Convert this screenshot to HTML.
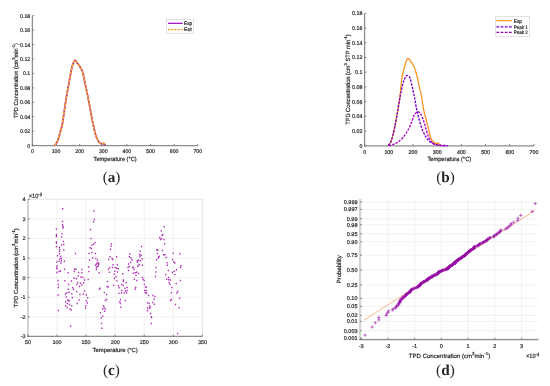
<!DOCTYPE html>
<html><head><meta charset="utf-8"><title>TPD figure</title>
<style>html,body{margin:0;padding:0;background:#fff;}svg{display:block;filter:blur(0.25px);} text{text-rendering:geometricPrecision;} .ax text{stroke:#262626;stroke-width:0.2px;}</style></head>
<body><svg width="550" height="386" viewBox="0 0 550 386" font-family="'Liberation Sans', Arial, Helvetica, sans-serif" fill="#262626">
<rect width="550" height="386" fill="#fff"/>
<g class="ax"><line x1="32.40" y1="15.70" x2="32.40" y2="146.20" stroke="#8e8e8e" stroke-width="1.3" />
<line x1="31.80" y1="145.60" x2="197.81" y2="145.60" stroke="#8e8e8e" stroke-width="1.3" />
<line x1="32.40" y1="145.60" x2="34.20" y2="145.60" stroke="#6a6a6a" stroke-width="0.8" />
<text transform="translate(30.20,147.55) scale(0.9615,1)" font-size="5.41" text-anchor="end" >0</text>
<line x1="32.40" y1="131.17" x2="34.20" y2="131.17" stroke="#6a6a6a" stroke-width="0.8" />
<text transform="translate(30.20,133.11) scale(0.9615,1)" font-size="5.41" text-anchor="end" >0.02</text>
<line x1="32.40" y1="116.73" x2="34.20" y2="116.73" stroke="#6a6a6a" stroke-width="0.8" />
<text transform="translate(30.20,118.68) scale(0.9615,1)" font-size="5.41" text-anchor="end" >0.04</text>
<line x1="32.40" y1="102.30" x2="34.20" y2="102.30" stroke="#6a6a6a" stroke-width="0.8" />
<text transform="translate(30.20,104.25) scale(0.9615,1)" font-size="5.41" text-anchor="end" >0.06</text>
<line x1="32.40" y1="87.87" x2="34.20" y2="87.87" stroke="#6a6a6a" stroke-width="0.8" />
<text transform="translate(30.20,89.81) scale(0.9615,1)" font-size="5.41" text-anchor="end" >0.08</text>
<line x1="32.40" y1="73.43" x2="34.20" y2="73.43" stroke="#6a6a6a" stroke-width="0.8" />
<text transform="translate(30.20,75.38) scale(0.9615,1)" font-size="5.41" text-anchor="end" >0.1</text>
<line x1="32.40" y1="59.00" x2="34.20" y2="59.00" stroke="#6a6a6a" stroke-width="0.8" />
<text transform="translate(30.20,60.95) scale(0.9615,1)" font-size="5.41" text-anchor="end" >0.12</text>
<line x1="32.40" y1="44.57" x2="34.20" y2="44.57" stroke="#6a6a6a" stroke-width="0.8" />
<text transform="translate(30.20,46.51) scale(0.9615,1)" font-size="5.41" text-anchor="end" >0.14</text>
<line x1="32.40" y1="30.13" x2="34.20" y2="30.13" stroke="#6a6a6a" stroke-width="0.8" />
<text transform="translate(30.20,32.08) scale(0.9615,1)" font-size="5.41" text-anchor="end" >0.16</text>
<line x1="32.40" y1="15.70" x2="34.20" y2="15.70" stroke="#6a6a6a" stroke-width="0.8" />
<text transform="translate(30.20,17.65) scale(0.9615,1)" font-size="5.41" text-anchor="end" >0.18</text>
<line x1="32.40" y1="145.60" x2="32.40" y2="143.80" stroke="#6a6a6a" stroke-width="0.8" />
<text transform="translate(32.40,153.40) scale(0.9615,1)" font-size="5.41" text-anchor="middle" >0</text>
<line x1="56.03" y1="145.60" x2="56.03" y2="143.80" stroke="#6a6a6a" stroke-width="0.8" />
<text transform="translate(56.03,153.40) scale(0.9615,1)" font-size="5.41" text-anchor="middle" >100</text>
<line x1="79.66" y1="145.60" x2="79.66" y2="143.80" stroke="#6a6a6a" stroke-width="0.8" />
<text transform="translate(79.66,153.40) scale(0.9615,1)" font-size="5.41" text-anchor="middle" >200</text>
<line x1="103.29" y1="145.60" x2="103.29" y2="143.80" stroke="#6a6a6a" stroke-width="0.8" />
<text transform="translate(103.29,153.40) scale(0.9615,1)" font-size="5.41" text-anchor="middle" >300</text>
<line x1="126.92" y1="145.60" x2="126.92" y2="143.80" stroke="#6a6a6a" stroke-width="0.8" />
<text transform="translate(126.92,153.40) scale(0.9615,1)" font-size="5.41" text-anchor="middle" >400</text>
<line x1="150.55" y1="145.60" x2="150.55" y2="143.80" stroke="#6a6a6a" stroke-width="0.8" />
<text transform="translate(150.55,153.40) scale(0.9615,1)" font-size="5.41" text-anchor="middle" >500</text>
<line x1="174.18" y1="145.60" x2="174.18" y2="143.80" stroke="#6a6a6a" stroke-width="0.8" />
<text transform="translate(174.18,153.40) scale(0.9615,1)" font-size="5.41" text-anchor="middle" >600</text>
<line x1="197.81" y1="145.60" x2="197.81" y2="143.80" stroke="#6a6a6a" stroke-width="0.8" />
<text transform="translate(197.81,153.40) scale(0.9615,1)" font-size="5.41" text-anchor="middle" >700</text>
<text transform="translate(115.11,160.80) scale(0.9434,1)" font-size="5.94" text-anchor="middle" >Temperature (°C)</text>
<text transform="translate(17.60,80.65) rotate(-90) scale(0.9434,1)" font-size="5.94" text-anchor="middle" >TPD Concentration (cm<tspan font-size="4.27" dy="-2.85">3</tspan><tspan dy="2.85">min</tspan><tspan font-size="4.27" dy="-2.85">-1</tspan><tspan dy="2.85">)</tspan></text>
<line x1="364.60" y1="13.30" x2="364.60" y2="146.40" stroke="#8e8e8e" stroke-width="1.3" />
<line x1="364.00" y1="145.80" x2="534.00" y2="145.80" stroke="#8e8e8e" stroke-width="1.3" />
<line x1="364.60" y1="145.80" x2="366.40" y2="145.80" stroke="#6a6a6a" stroke-width="0.8" />
<text transform="translate(362.40,147.78) scale(0.9615,1)" font-size="5.51" text-anchor="end" >0</text>
<line x1="364.60" y1="131.08" x2="366.40" y2="131.08" stroke="#6a6a6a" stroke-width="0.8" />
<text transform="translate(362.40,133.06) scale(0.9615,1)" font-size="5.51" text-anchor="end" >0.02</text>
<line x1="364.60" y1="116.36" x2="366.40" y2="116.36" stroke="#6a6a6a" stroke-width="0.8" />
<text transform="translate(362.40,118.34) scale(0.9615,1)" font-size="5.51" text-anchor="end" >0.04</text>
<line x1="364.60" y1="101.63" x2="366.40" y2="101.63" stroke="#6a6a6a" stroke-width="0.8" />
<text transform="translate(362.40,103.62) scale(0.9615,1)" font-size="5.51" text-anchor="end" >0.06</text>
<line x1="364.60" y1="86.91" x2="366.40" y2="86.91" stroke="#6a6a6a" stroke-width="0.8" />
<text transform="translate(362.40,88.90) scale(0.9615,1)" font-size="5.51" text-anchor="end" >0.08</text>
<line x1="364.60" y1="72.19" x2="366.40" y2="72.19" stroke="#6a6a6a" stroke-width="0.8" />
<text transform="translate(362.40,74.17) scale(0.9615,1)" font-size="5.51" text-anchor="end" >0.1</text>
<line x1="364.60" y1="57.47" x2="366.40" y2="57.47" stroke="#6a6a6a" stroke-width="0.8" />
<text transform="translate(362.40,59.45) scale(0.9615,1)" font-size="5.51" text-anchor="end" >0.12</text>
<line x1="364.60" y1="42.74" x2="366.40" y2="42.74" stroke="#6a6a6a" stroke-width="0.8" />
<text transform="translate(362.40,44.73) scale(0.9615,1)" font-size="5.51" text-anchor="end" >0.14</text>
<line x1="364.60" y1="28.02" x2="366.40" y2="28.02" stroke="#6a6a6a" stroke-width="0.8" />
<text transform="translate(362.40,30.01) scale(0.9615,1)" font-size="5.51" text-anchor="end" >0.16</text>
<line x1="364.60" y1="13.30" x2="366.40" y2="13.30" stroke="#6a6a6a" stroke-width="0.8" />
<text transform="translate(362.40,15.28) scale(0.9615,1)" font-size="5.51" text-anchor="end" >0.18</text>
<line x1="364.60" y1="145.80" x2="364.60" y2="144.00" stroke="#6a6a6a" stroke-width="0.8" />
<text transform="translate(364.60,153.60) scale(0.9615,1)" font-size="5.51" text-anchor="middle" >0</text>
<line x1="388.80" y1="145.80" x2="388.80" y2="144.00" stroke="#6a6a6a" stroke-width="0.8" />
<text transform="translate(388.80,153.60) scale(0.9615,1)" font-size="5.51" text-anchor="middle" >100</text>
<line x1="413.00" y1="145.80" x2="413.00" y2="144.00" stroke="#6a6a6a" stroke-width="0.8" />
<text transform="translate(413.00,153.60) scale(0.9615,1)" font-size="5.51" text-anchor="middle" >200</text>
<line x1="437.20" y1="145.80" x2="437.20" y2="144.00" stroke="#6a6a6a" stroke-width="0.8" />
<text transform="translate(437.20,153.60) scale(0.9615,1)" font-size="5.51" text-anchor="middle" >300</text>
<line x1="461.40" y1="145.80" x2="461.40" y2="144.00" stroke="#6a6a6a" stroke-width="0.8" />
<text transform="translate(461.40,153.60) scale(0.9615,1)" font-size="5.51" text-anchor="middle" >400</text>
<line x1="485.60" y1="145.80" x2="485.60" y2="144.00" stroke="#6a6a6a" stroke-width="0.8" />
<text transform="translate(485.60,153.60) scale(0.9615,1)" font-size="5.51" text-anchor="middle" >500</text>
<line x1="509.80" y1="145.80" x2="509.80" y2="144.00" stroke="#6a6a6a" stroke-width="0.8" />
<text transform="translate(509.80,153.60) scale(0.9615,1)" font-size="5.51" text-anchor="middle" >600</text>
<line x1="534.00" y1="145.80" x2="534.00" y2="144.00" stroke="#6a6a6a" stroke-width="0.8" />
<text transform="translate(534.00,153.60) scale(0.9615,1)" font-size="5.51" text-anchor="middle" >700</text>
<text transform="translate(449.30,161.40) scale(0.9434,1)" font-size="6.04" text-anchor="middle" >Temperatura (°C)</text>
<text transform="translate(349.90,79.55) rotate(-90) scale(0.9434,1)" font-size="6.04" text-anchor="middle" >TPD Concentration (cm<tspan font-size="4.35" dy="-2.90">3</tspan><tspan dy="2.90"> STP min</tspan><tspan font-size="4.35" dy="-2.90">-1</tspan><tspan dy="2.90">)</tspan></text>
<path d="M54.60 145.60 C54.80 145.33 55.40 144.55 55.80 144.00 C56.20 143.45 56.50 143.42 57.00 142.30 C57.50 141.18 58.22 139.18 58.80 137.30 C59.38 135.42 59.93 133.07 60.50 131.00 C61.07 128.93 61.60 128.00 62.20 124.90 C62.80 121.80 63.48 116.55 64.10 112.40 C64.72 108.25 65.45 102.90 65.90 100.00 C66.35 97.10 66.40 97.25 66.80 95.00 C67.20 92.75 67.80 89.28 68.30 86.50 C68.80 83.72 69.35 80.72 69.80 78.30 C70.25 75.88 70.63 73.88 71.00 72.00 C71.37 70.12 71.67 68.33 72.00 67.00 C72.33 65.67 72.67 64.92 73.00 64.00 C73.33 63.08 73.70 62.12 74.00 61.50 C74.30 60.88 74.53 60.45 74.80 60.30 C75.07 60.15 75.32 60.35 75.60 60.60 C75.88 60.85 76.10 61.23 76.50 61.80 C76.90 62.37 77.48 63.25 78.00 64.00 C78.52 64.75 79.10 65.55 79.60 66.30 C80.10 67.05 80.58 67.77 81.00 68.50 C81.42 69.23 81.77 69.87 82.10 70.70 C82.43 71.53 82.68 72.27 83.00 73.50 C83.32 74.73 83.53 75.87 84.00 78.10 C84.47 80.33 85.18 83.98 85.80 86.90 C86.42 89.82 87.25 93.42 87.70 95.60 C88.15 97.78 88.05 97.60 88.50 100.00 C88.95 102.40 89.78 106.68 90.40 110.00 C91.02 113.32 91.58 116.80 92.20 119.90 C92.82 123.00 93.47 125.90 94.10 128.60 C94.73 131.30 95.48 134.37 96.00 136.10 C96.52 137.83 96.80 138.18 97.20 139.00 C97.60 139.82 98.00 140.42 98.40 141.00 C98.80 141.58 99.18 142.08 99.60 142.50 C100.02 142.92 100.42 143.25 100.90 143.50 C101.38 143.75 102.07 144.02 102.50 144.00 C102.93 143.98 103.13 143.37 103.50 143.40 C103.87 143.43 104.37 143.88 104.70 144.20 C105.03 144.52 105.37 145.12 105.50 145.30" fill="none" stroke="#8c00b4" stroke-width="1.6" stroke-linejoin="round" />
<path d="M54.60 145.60 C54.80 145.33 55.40 144.55 55.80 144.00 C56.20 143.45 56.50 143.42 57.00 142.30 C57.50 141.18 58.22 139.18 58.80 137.30 C59.38 135.42 59.93 133.07 60.50 131.00 C61.07 128.93 61.60 128.00 62.20 124.90 C62.80 121.80 63.48 116.55 64.10 112.40 C64.72 108.25 65.45 102.90 65.90 100.00 C66.35 97.10 66.40 97.25 66.80 95.00 C67.20 92.75 67.80 89.28 68.30 86.50 C68.80 83.72 69.35 80.72 69.80 78.30 C70.25 75.88 70.63 73.88 71.00 72.00 C71.37 70.12 71.67 68.33 72.00 67.00 C72.33 65.67 72.67 64.92 73.00 64.00 C73.33 63.08 73.70 62.12 74.00 61.50 C74.30 60.88 74.53 60.45 74.80 60.30 C75.07 60.15 75.32 60.35 75.60 60.60 C75.88 60.85 76.10 61.23 76.50 61.80 C76.90 62.37 77.48 63.25 78.00 64.00 C78.52 64.75 79.10 65.55 79.60 66.30 C80.10 67.05 80.58 67.77 81.00 68.50 C81.42 69.23 81.77 69.87 82.10 70.70 C82.43 71.53 82.68 72.27 83.00 73.50 C83.32 74.73 83.53 75.87 84.00 78.10 C84.47 80.33 85.18 83.98 85.80 86.90 C86.42 89.82 87.25 93.42 87.70 95.60 C88.15 97.78 88.05 97.60 88.50 100.00 C88.95 102.40 89.78 106.68 90.40 110.00 C91.02 113.32 91.58 116.80 92.20 119.90 C92.82 123.00 93.47 125.90 94.10 128.60 C94.73 131.30 95.48 134.37 96.00 136.10 C96.52 137.83 96.80 138.18 97.20 139.00 C97.60 139.82 98.00 140.42 98.40 141.00 C98.80 141.58 99.18 142.08 99.60 142.50 C100.02 142.92 100.42 143.25 100.90 143.50 C101.38 143.75 102.07 144.02 102.50 144.00 C102.93 143.98 103.13 143.37 103.50 143.40 C103.87 143.43 104.37 143.88 104.70 144.20 C105.03 144.52 105.37 145.12 105.50 145.30" fill="none" stroke="#f8a030" stroke-width="1.7" stroke-linejoin="round" stroke-dasharray="3.3 0.75"/>
<rect x="166.4" y="19.3" width="27.2" height="13.9" fill="#fff" stroke="#d0d0d0" stroke-width="0.6"/>
<line x1="168.00" y1="23.30" x2="182.70" y2="23.30" stroke="#9a00c8" stroke-width="1.2" />
<line x1="168.00" y1="29.60" x2="182.70" y2="29.60" stroke="#f79320" stroke-width="1.1" stroke-dasharray="2 1.3"/>
<text x="184.00" y="25.20" font-size="5.0" text-anchor="start" textLength="8.2" lengthAdjust="spacingAndGlyphs">Exp</text>
<text x="184.00" y="31.40" font-size="5.0" text-anchor="start" textLength="7.6" lengthAdjust="spacingAndGlyphs">Est</text>
<path d="M388.20 145.60 C388.63 145.00 390.03 143.67 390.80 142.00 C391.57 140.33 392.03 138.62 392.80 135.60 C393.57 132.58 394.58 128.00 395.40 123.90 C396.22 119.80 397.00 115.10 397.70 111.00 C398.40 106.90 399.18 102.13 399.60 99.30 C400.02 96.47 399.82 97.50 400.20 94.00 C400.58 90.50 401.32 82.27 401.90 78.30 C402.48 74.33 403.02 72.92 403.70 70.20 C404.38 67.48 405.42 63.83 406.00 62.00 C406.58 60.17 406.82 59.78 407.20 59.20 C407.58 58.62 407.92 58.48 408.30 58.50 C408.68 58.52 409.12 58.85 409.50 59.30 C409.88 59.75 409.93 60.12 410.60 61.20 C411.27 62.28 412.63 64.05 413.50 65.80 C414.37 67.55 415.12 69.55 415.80 71.70 C416.48 73.85 417.02 76.18 417.60 78.70 C418.18 81.22 418.62 83.70 419.30 86.80 C419.98 89.90 420.97 93.43 421.70 97.30 C422.43 101.17 422.95 106.23 423.70 110.00 C424.45 113.77 425.37 116.58 426.20 119.90 C427.03 123.22 427.98 127.00 428.70 129.90 C429.42 132.80 429.88 135.45 430.50 137.30 C431.12 139.15 431.67 140.07 432.40 141.00 C433.13 141.93 434.13 142.48 434.90 142.90 C435.67 143.32 436.43 143.50 437.00 143.50 C437.57 143.50 437.92 142.72 438.30 142.90 C438.68 143.08 438.85 144.18 439.30 144.60 C439.75 145.02 440.72 145.27 441.00 145.40" fill="none" stroke="#f79320" stroke-width="1.3" stroke-linejoin="round" />
<path d="M388.40 145.60 C388.80 145.00 390.07 143.67 390.80 142.00 C391.53 140.33 392.03 138.62 392.80 135.60 C393.57 132.58 394.58 128.00 395.40 123.90 C396.22 119.80 397.00 115.10 397.70 111.00 C398.40 106.90 399.08 102.22 399.60 99.30 C400.12 96.38 400.32 95.83 400.80 93.50 C401.28 91.17 401.92 87.63 402.50 85.30 C403.08 82.97 403.72 81.00 404.30 79.50 C404.88 78.00 405.52 76.98 406.00 76.30 C406.48 75.62 406.77 75.40 407.20 75.40 C407.63 75.40 408.12 75.82 408.60 76.30 C409.08 76.78 409.47 76.40 410.10 78.30 C410.73 80.20 411.72 84.78 412.40 87.70 C413.08 90.62 413.77 93.70 414.20 95.80 C414.63 97.90 414.57 97.93 415.00 100.30 C415.43 102.67 416.08 106.73 416.80 110.00 C417.52 113.27 418.37 116.58 419.30 119.90 C420.23 123.22 421.25 127.00 422.40 129.90 C423.55 132.80 424.95 135.33 426.20 137.30 C427.45 139.27 428.45 140.55 429.90 141.70 C431.35 142.85 432.83 143.58 434.90 144.20 C436.97 144.82 440.12 145.17 442.30 145.40 C444.48 145.63 447.05 145.57 448.00 145.60" fill="none" stroke="#7a00c8" stroke-width="1.4" stroke-linejoin="round" stroke-dasharray="2.4 1.2"/>
<path d="M388.80 145.60 C389.25 145.48 390.55 145.20 391.50 144.90 C392.45 144.60 393.42 144.28 394.50 143.80 C395.58 143.32 396.57 143.05 398.00 142.00 C399.43 140.95 401.60 139.22 403.10 137.50 C404.60 135.78 405.75 133.80 407.00 131.70 C408.25 129.60 409.48 127.48 410.60 124.90 C411.72 122.32 412.88 118.15 413.70 116.20 C414.52 114.25 414.77 113.93 415.50 113.20 C416.23 112.47 417.38 111.90 418.10 111.80 C418.82 111.70 419.28 112.08 419.80 112.60 C420.32 113.12 420.55 113.48 421.20 114.90 C421.85 116.32 422.87 118.60 423.70 121.10 C424.53 123.60 425.37 127.20 426.20 129.90 C427.03 132.60 427.77 135.23 428.70 137.30 C429.63 139.37 430.57 141.05 431.80 142.30 C433.03 143.55 434.13 144.25 436.10 144.80 C438.07 145.35 441.62 145.47 443.60 145.60 C445.58 145.73 447.27 145.60 448.00 145.60" fill="none" stroke="#a800c0" stroke-width="1.3" stroke-linejoin="round" stroke-dasharray="2.4 1.2"/>
<rect x="495.3" y="16.4" width="34.4" height="20" fill="#fff" stroke="#d0d0d0" stroke-width="0.6"/>
<line x1="496.40" y1="20.60" x2="511.80" y2="20.60" stroke="#f79320" stroke-width="1.2" />
<line x1="496.40" y1="26.80" x2="511.80" y2="26.80" stroke="#7a00c8" stroke-width="1.2" stroke-dasharray="2.8 1.4"/>
<line x1="496.40" y1="32.30" x2="511.80" y2="32.30" stroke="#a800c0" stroke-width="1.2" stroke-dasharray="2.8 1.4"/>
<text x="513.80" y="22.50" font-size="5.0" text-anchor="start" textLength="8.2" lengthAdjust="spacingAndGlyphs">Exp</text>
<text x="513.80" y="28.60" font-size="5.0" text-anchor="start" textLength="14" lengthAdjust="spacingAndGlyphs">Peak 1</text>
<text x="513.80" y="34.40" font-size="5.0" text-anchor="start" textLength="14" lengthAdjust="spacingAndGlyphs">Peak 2</text>
<line x1="27.90" y1="199.30" x2="27.90" y2="336.40" stroke="#ebebeb" stroke-width="0.7" />
<line x1="56.98" y1="199.30" x2="56.98" y2="336.40" stroke="#ebebeb" stroke-width="0.7" />
<line x1="86.07" y1="199.30" x2="86.07" y2="336.40" stroke="#ebebeb" stroke-width="0.7" />
<line x1="115.15" y1="199.30" x2="115.15" y2="336.40" stroke="#ebebeb" stroke-width="0.7" />
<line x1="144.23" y1="199.30" x2="144.23" y2="336.40" stroke="#ebebeb" stroke-width="0.7" />
<line x1="173.32" y1="199.30" x2="173.32" y2="336.40" stroke="#ebebeb" stroke-width="0.7" />
<line x1="202.40" y1="199.30" x2="202.40" y2="336.40" stroke="#ebebeb" stroke-width="0.7" />
<line x1="27.90" y1="336.40" x2="202.40" y2="336.40" stroke="#ebebeb" stroke-width="0.7" />
<line x1="27.90" y1="316.81" x2="202.40" y2="316.81" stroke="#ebebeb" stroke-width="0.7" />
<line x1="27.90" y1="297.23" x2="202.40" y2="297.23" stroke="#ebebeb" stroke-width="0.7" />
<line x1="27.90" y1="277.64" x2="202.40" y2="277.64" stroke="#ebebeb" stroke-width="0.7" />
<line x1="27.90" y1="258.06" x2="202.40" y2="258.06" stroke="#ebebeb" stroke-width="0.7" />
<line x1="27.90" y1="238.47" x2="202.40" y2="238.47" stroke="#ebebeb" stroke-width="0.7" />
<line x1="27.90" y1="218.89" x2="202.40" y2="218.89" stroke="#ebebeb" stroke-width="0.7" />
<line x1="27.90" y1="199.30" x2="202.40" y2="199.30" stroke="#ebebeb" stroke-width="0.7" />
<line x1="27.90" y1="199.30" x2="202.40" y2="199.30" stroke="#e6e6e6" stroke-width="0.7" />
<line x1="202.40" y1="199.30" x2="202.40" y2="336.40" stroke="#e2e2e2" stroke-width="0.7" />
<line x1="27.90" y1="199.30" x2="27.90" y2="336.40" stroke="#cfcfcf" stroke-width="1.8" />
<line x1="27.00" y1="336.40" x2="202.40" y2="336.40" stroke="#8e8e8e" stroke-width="1.3" />
<line x1="27.90" y1="336.40" x2="27.90" y2="334.60" stroke="#6a6a6a" stroke-width="0.8" />
<text x="27.90" y="344.00" font-size="5.4" text-anchor="middle" >50</text>
<line x1="56.98" y1="336.40" x2="56.98" y2="334.60" stroke="#6a6a6a" stroke-width="0.8" />
<text x="56.98" y="344.00" font-size="5.4" text-anchor="middle" >100</text>
<line x1="86.07" y1="336.40" x2="86.07" y2="334.60" stroke="#6a6a6a" stroke-width="0.8" />
<text x="86.07" y="344.00" font-size="5.4" text-anchor="middle" >150</text>
<line x1="115.15" y1="336.40" x2="115.15" y2="334.60" stroke="#6a6a6a" stroke-width="0.8" />
<text x="115.15" y="344.00" font-size="5.4" text-anchor="middle" >200</text>
<line x1="144.23" y1="336.40" x2="144.23" y2="334.60" stroke="#6a6a6a" stroke-width="0.8" />
<text x="144.23" y="344.00" font-size="5.4" text-anchor="middle" >250</text>
<line x1="173.32" y1="336.40" x2="173.32" y2="334.60" stroke="#6a6a6a" stroke-width="0.8" />
<text x="173.32" y="344.00" font-size="5.4" text-anchor="middle" >300</text>
<line x1="202.40" y1="336.40" x2="202.40" y2="334.60" stroke="#6a6a6a" stroke-width="0.8" />
<text x="202.40" y="344.00" font-size="5.4" text-anchor="middle" >350</text>
<line x1="27.90" y1="336.40" x2="29.70" y2="336.40" stroke="#6a6a6a" stroke-width="0.8" />
<text x="25.50" y="338.40" font-size="5.4" text-anchor="end" >-3</text>
<line x1="27.90" y1="316.81" x2="29.70" y2="316.81" stroke="#6a6a6a" stroke-width="0.8" />
<text x="25.50" y="318.81" font-size="5.4" text-anchor="end" >-2</text>
<line x1="27.90" y1="297.23" x2="29.70" y2="297.23" stroke="#6a6a6a" stroke-width="0.8" />
<text x="25.50" y="299.23" font-size="5.4" text-anchor="end" >-1</text>
<line x1="27.90" y1="277.64" x2="29.70" y2="277.64" stroke="#6a6a6a" stroke-width="0.8" />
<text x="25.50" y="279.64" font-size="5.4" text-anchor="end" >0</text>
<line x1="27.90" y1="258.06" x2="29.70" y2="258.06" stroke="#6a6a6a" stroke-width="0.8" />
<text x="25.50" y="260.06" font-size="5.4" text-anchor="end" >1</text>
<line x1="27.90" y1="238.47" x2="29.70" y2="238.47" stroke="#6a6a6a" stroke-width="0.8" />
<text x="25.50" y="240.47" font-size="5.4" text-anchor="end" >2</text>
<line x1="27.90" y1="218.89" x2="29.70" y2="218.89" stroke="#6a6a6a" stroke-width="0.8" />
<text x="25.50" y="220.89" font-size="5.4" text-anchor="end" >3</text>
<line x1="27.90" y1="199.30" x2="29.70" y2="199.30" stroke="#6a6a6a" stroke-width="0.8" />
<text x="25.50" y="201.30" font-size="5.4" text-anchor="end" >4</text>
<text transform="translate(28.80,197.90) scale(0.8929,1)" font-size="6.27" text-anchor="start" >×10<tspan font-size="4.6" dy="-2.4">-3</tspan></text>
<text x="115.15" y="351.60" font-size="5.9" text-anchor="middle" >Temperature (°C)</text>
<path d="M62.05 208.05h1.3v1.5h-1.3z M61.85 220.75h1.3v1.5h-1.3z M61.85 223.95h1.3v1.5h-1.3z M62.55 225.75h1.3v1.5h-1.3z M62.35 227.15h1.3v1.5h-1.3z M55.75 228.15h1.3v1.5h-1.3z M55.75 233.75h1.3v1.5h-1.3z M61.35 233.05h1.3v1.5h-1.3z M93.25 210.35h1.3v1.5h-1.3z M93.65 218.75h1.3v1.5h-1.3z M92.85 221.05h1.3v1.5h-1.3z M89.85 228.75h1.3v1.5h-1.3z M55.75 234.55h1.3v1.5h-1.3z M55.75 235.85h1.3v1.5h-1.3z M60.85 236.35h1.3v1.5h-1.3z M55.75 241.35h1.3v1.5h-1.3z M55.75 242.45h1.3v1.5h-1.3z M62.85 240.85h1.3v1.5h-1.3z M60.95 244.05h1.3v1.5h-1.3z M63.15 243.85h1.3v1.5h-1.3z M55.75 245.85h1.3v1.5h-1.3z M58.85 246.55h1.3v1.5h-1.3z M59.05 248.75h1.3v1.5h-1.3z M63.15 249.15h1.3v1.5h-1.3z M58.85 250.45h1.3v1.5h-1.3z M58.85 252.95h1.3v1.5h-1.3z M56.85 254.95h1.3v1.5h-1.3z M59.95 255.75h1.3v1.5h-1.3z M59.15 258.15h1.3v1.5h-1.3z M60.75 257.75h1.3v1.5h-1.3z M58.45 260.45h1.3v1.5h-1.3z M56.15 261.35h1.3v1.5h-1.3z M60.75 259.95h1.3v1.5h-1.3z M63.75 260.45h1.3v1.5h-1.3z M60.25 262.25h1.3v1.5h-1.3z M56.65 264.95h1.3v1.5h-1.3z M55.85 266.65h1.3v1.5h-1.3z M74.85 252.85h1.3v1.5h-1.3z M90.25 237.85h1.3v1.5h-1.3z M94.35 241.75h1.3v1.5h-1.3z M92.95 243.15h1.3v1.5h-1.3z M91.35 244.35h1.3v1.5h-1.3z M89.35 247.05h1.3v1.5h-1.3z M90.75 247.75h1.3v1.5h-1.3z M91.35 251.65h1.3v1.5h-1.3z M88.45 252.75h1.3v1.5h-1.3z M94.85 252.75h1.3v1.5h-1.3z M92.05 256.95h1.3v1.5h-1.3z M95.25 257.85h1.3v1.5h-1.3z M88.85 259.25h1.3v1.5h-1.3z M96.85 259.55h1.3v1.5h-1.3z M96.65 262.25h1.3v1.5h-1.3z M95.75 263.15h1.3v1.5h-1.3z M94.85 264.55h1.3v1.5h-1.3z M97.55 264.95h1.3v1.5h-1.3z M87.95 266.35h1.3v1.5h-1.3z M56.45 267.95h1.3v1.5h-1.3z M56.15 271.65h1.3v1.5h-1.3z M58.45 270.75h1.3v1.5h-1.3z M59.85 270.25h1.3v1.5h-1.3z M63.85 268.45h1.3v1.5h-1.3z M67.55 272.05h1.3v1.5h-1.3z M73.85 268.45h1.3v1.5h-1.3z M75.25 268.45h1.3v1.5h-1.3z M73.45 270.85h1.3v1.5h-1.3z M77.95 271.75h1.3v1.5h-1.3z M81.15 268.85h1.3v1.5h-1.3z M81.15 272.05h1.3v1.5h-1.3z M88.25 270.75h1.3v1.5h-1.3z M95.75 266.65h1.3v1.5h-1.3z M96.65 265.75h1.3v1.5h-1.3z M95.75 268.85h1.3v1.5h-1.3z M98.45 272.05h1.3v1.5h-1.3z M77.55 275.25h1.3v1.5h-1.3z M80.25 276.35h1.3v1.5h-1.3z M82.25 276.85h1.3v1.5h-1.3z M73.45 277.55h1.3v1.5h-1.3z M75.75 277.95h1.3v1.5h-1.3z M83.85 279.35h1.3v1.5h-1.3z M87.55 278.85h1.3v1.5h-1.3z M57.35 279.65h1.3v1.5h-1.3z M64.35 279.95h1.3v1.5h-1.3z M70.75 280.25h1.3v1.5h-1.3z M77.05 281.65h1.3v1.5h-1.3z M82.95 282.05h1.3v1.5h-1.3z M79.85 282.55h1.3v1.5h-1.3z M76.15 283.85h1.3v1.5h-1.3z M81.15 284.35h1.3v1.5h-1.3z M78.85 285.75h1.3v1.5h-1.3z M57.75 283.85h1.3v1.5h-1.3z M57.75 286.65h1.3v1.5h-1.3z M67.95 283.85h1.3v1.5h-1.3z M72.05 287.05h1.3v1.5h-1.3z M72.85 288.75h1.3v1.5h-1.3z M67.55 288.45h1.3v1.5h-1.3z M98.85 288.45h1.3v1.5h-1.3z M83.85 289.95h1.3v1.5h-1.3z M76.15 290.75h1.3v1.5h-1.3z M68.45 291.45h1.3v1.5h-1.3z M66.15 292.05h1.3v1.5h-1.3z M64.95 293.25h1.3v1.5h-1.3z M71.15 292.95h1.3v1.5h-1.3z M79.35 293.85h1.3v1.5h-1.3z M82.55 293.45h1.3v1.5h-1.3z M85.75 294.35h1.3v1.5h-1.3z M57.55 294.15h1.3v1.5h-1.3z M65.75 296.15h1.3v1.5h-1.3z M71.65 297.05h1.3v1.5h-1.3z M87.05 297.05h1.3v1.5h-1.3z M67.95 299.65h1.3v1.5h-1.3z M78.45 299.35h1.3v1.5h-1.3z M67.05 299.35h1.3v1.5h-1.3z M68.75 300.05h1.3v1.5h-1.3z M64.95 300.95h1.3v1.5h-1.3z M85.75 300.05h1.3v1.5h-1.3z M86.65 302.35h1.3v1.5h-1.3z M66.65 302.75h1.3v1.5h-1.3z M68.85 303.75h1.3v1.5h-1.3z M76.65 302.75h1.3v1.5h-1.3z M64.95 305.05h1.3v1.5h-1.3z M66.45 306.65h1.3v1.5h-1.3z M71.15 305.05h1.3v1.5h-1.3z M85.25 305.05h1.3v1.5h-1.3z M84.85 307.35h1.3v1.5h-1.3z M69.35 308.25h1.3v1.5h-1.3z M70.75 309.35h1.3v1.5h-1.3z M57.75 309.75h1.3v1.5h-1.3z M69.85 325.25h1.3v1.5h-1.3z M110.85 243.35h1.3v1.5h-1.3z M110.35 245.45h1.3v1.5h-1.3z M109.85 248.45h1.3v1.5h-1.3z M109.35 256.05h1.3v1.5h-1.3z M108.05 258.65h1.3v1.5h-1.3z M111.45 257.85h1.3v1.5h-1.3z M112.05 258.75h1.3v1.5h-1.3z M115.95 256.05h1.3v1.5h-1.3z M98.05 262.25h1.3v1.5h-1.3z M98.05 263.65h1.3v1.5h-1.3z M112.35 264.05h1.3v1.5h-1.3z M116.65 264.05h1.3v1.5h-1.3z M109.15 266.65h1.3v1.5h-1.3z M111.85 266.65h1.3v1.5h-1.3z M114.65 266.65h1.3v1.5h-1.3z M129.15 253.15h1.3v1.5h-1.3z M128.75 256.05h1.3v1.5h-1.3z M130.25 257.25h1.3v1.5h-1.3z M131.45 259.35h1.3v1.5h-1.3z M129.85 261.75h1.3v1.5h-1.3z M127.85 263.15h1.3v1.5h-1.3z M127.35 266.65h1.3v1.5h-1.3z M131.85 266.65h1.3v1.5h-1.3z M132.85 266.65h1.3v1.5h-1.3z M140.85 245.85h1.3v1.5h-1.3z M139.65 250.45h1.3v1.5h-1.3z M138.95 253.85h1.3v1.5h-1.3z M140.55 254.55h1.3v1.5h-1.3z M139.35 255.85h1.3v1.5h-1.3z M136.65 259.95h1.3v1.5h-1.3z M137.85 259.55h1.3v1.5h-1.3z M139.85 259.95h1.3v1.5h-1.3z M141.45 258.15h1.3v1.5h-1.3z M136.85 261.55h1.3v1.5h-1.3z M138.75 263.65h1.3v1.5h-1.3z M137.35 264.75h1.3v1.5h-1.3z M141.75 264.55h1.3v1.5h-1.3z M107.85 268.45h1.3v1.5h-1.3z M115.95 267.55h1.3v1.5h-1.3z M117.55 267.95h1.3v1.5h-1.3z M108.75 271.45h1.3v1.5h-1.3z M114.15 270.55h1.3v1.5h-1.3z M116.85 271.15h1.3v1.5h-1.3z M113.55 273.25h1.3v1.5h-1.3z M122.05 273.25h1.3v1.5h-1.3z M115.35 275.95h1.3v1.5h-1.3z M113.75 277.75h1.3v1.5h-1.3z M116.25 279.95h1.3v1.5h-1.3z M122.85 279.35h1.3v1.5h-1.3z M122.65 280.55h1.3v1.5h-1.3z M125.55 282.05h1.3v1.5h-1.3z M106.85 280.75h1.3v1.5h-1.3z M112.95 284.55h1.3v1.5h-1.3z M117.85 285.05h1.3v1.5h-1.3z M120.95 283.85h1.3v1.5h-1.3z M122.65 284.75h1.3v1.5h-1.3z M118.45 287.05h1.3v1.5h-1.3z M124.15 287.55h1.3v1.5h-1.3z M126.45 286.65h1.3v1.5h-1.3z M106.45 285.75h1.3v1.5h-1.3z M107.55 286.35h1.3v1.5h-1.3z M99.35 287.55h1.3v1.5h-1.3z M121.15 289.65h1.3v1.5h-1.3z M124.85 290.25h1.3v1.5h-1.3z M126.45 289.75h1.3v1.5h-1.3z M103.75 291.65h1.3v1.5h-1.3z M105.95 293.85h1.3v1.5h-1.3z M118.25 292.55h1.3v1.5h-1.3z M120.85 292.25h1.3v1.5h-1.3z M123.75 292.35h1.3v1.5h-1.3z M125.95 292.35h1.3v1.5h-1.3z M105.95 298.75h1.3v1.5h-1.3z M104.65 299.75h1.3v1.5h-1.3z M119.85 298.75h1.3v1.5h-1.3z M124.65 299.65h1.3v1.5h-1.3z M128.75 265.75h1.3v1.5h-1.3z M127.85 269.75h1.3v1.5h-1.3z M133.25 268.85h1.3v1.5h-1.3z M132.65 272.55h1.3v1.5h-1.3z M134.65 272.05h1.3v1.5h-1.3z M135.95 271.45h1.3v1.5h-1.3z M137.85 272.75h1.3v1.5h-1.3z M135.35 274.75h1.3v1.5h-1.3z M133.75 278.45h1.3v1.5h-1.3z M136.25 279.65h1.3v1.5h-1.3z M137.35 265.75h1.3v1.5h-1.3z M141.85 276.65h1.3v1.5h-1.3z M142.65 278.75h1.3v1.5h-1.3z M143.55 279.75h1.3v1.5h-1.3z M143.75 283.65h1.3v1.5h-1.3z M145.05 286.15h1.3v1.5h-1.3z M135.05 286.85h1.3v1.5h-1.3z M134.65 288.45h1.3v1.5h-1.3z M144.15 289.75h1.3v1.5h-1.3z M145.55 289.75h1.3v1.5h-1.3z M144.65 292.05h1.3v1.5h-1.3z M145.95 292.55h1.3v1.5h-1.3z M102.85 305.05h1.3v1.5h-1.3z M103.55 306.85h1.3v1.5h-1.3z M102.05 308.25h1.3v1.5h-1.3z M104.65 308.25h1.3v1.5h-1.3z M104.15 310.55h1.3v1.5h-1.3z M99.85 312.05h1.3v1.5h-1.3z M102.05 315.55h1.3v1.5h-1.3z M100.55 317.35h1.3v1.5h-1.3z M100.85 322.65h1.3v1.5h-1.3z M101.15 327.55h1.3v1.5h-1.3z M119.15 300.95h1.3v1.5h-1.3z M119.65 302.65h1.3v1.5h-1.3z M120.25 306.45h1.3v1.5h-1.3z M146.85 302.05h1.3v1.5h-1.3z M146.85 307.35h1.3v1.5h-1.3z M146.85 310.05h1.3v1.5h-1.3z M163.55 226.05h1.3v1.5h-1.3z M160.65 230.15h1.3v1.5h-1.3z M162.15 233.65h1.3v1.5h-1.3z M161.55 234.75h1.3v1.5h-1.3z M158.95 236.65h1.3v1.5h-1.3z M160.85 237.85h1.3v1.5h-1.3z M159.85 238.75h1.3v1.5h-1.3z M163.35 238.65h1.3v1.5h-1.3z M163.95 242.95h1.3v1.5h-1.3z M156.05 249.05h1.3v1.5h-1.3z M157.15 249.55h1.3v1.5h-1.3z M161.85 249.75h1.3v1.5h-1.3z M156.75 252.75h1.3v1.5h-1.3z M163.05 254.05h1.3v1.5h-1.3z M164.25 254.05h1.3v1.5h-1.3z M158.55 255.45h1.3v1.5h-1.3z M158.05 256.35h1.3v1.5h-1.3z M157.65 257.25h1.3v1.5h-1.3z M165.55 256.65h1.3v1.5h-1.3z M156.05 259.05h1.3v1.5h-1.3z M172.45 252.45h1.3v1.5h-1.3z M179.15 252.95h1.3v1.5h-1.3z M171.85 258.75h1.3v1.5h-1.3z M173.05 261.15h1.3v1.5h-1.3z M174.25 262.25h1.3v1.5h-1.3z M166.45 262.05h1.3v1.5h-1.3z M166.75 264.55h1.3v1.5h-1.3z M180.35 264.95h1.3v1.5h-1.3z M179.85 266.65h1.3v1.5h-1.3z M155.35 266.65h1.3v1.5h-1.3z M155.15 271.15h1.3v1.5h-1.3z M154.75 275.75h1.3v1.5h-1.3z M167.65 269.65h1.3v1.5h-1.3z M165.15 273.65h1.3v1.5h-1.3z M171.75 271.65h1.3v1.5h-1.3z M173.55 270.55h1.3v1.5h-1.3z M175.85 269.05h1.3v1.5h-1.3z M174.25 273.85h1.3v1.5h-1.3z M167.85 276.85h1.3v1.5h-1.3z M166.05 278.45h1.3v1.5h-1.3z M168.05 279.05h1.3v1.5h-1.3z M169.85 279.35h1.3v1.5h-1.3z M179.75 279.65h1.3v1.5h-1.3z M168.55 281.75h1.3v1.5h-1.3z M169.15 283.45h1.3v1.5h-1.3z M175.55 282.75h1.3v1.5h-1.3z M171.25 286.65h1.3v1.5h-1.3z M145.85 286.35h1.3v1.5h-1.3z M147.85 294.75h1.3v1.5h-1.3z M152.15 294.75h1.3v1.5h-1.3z M154.25 295.75h1.3v1.5h-1.3z M153.55 298.45h1.3v1.5h-1.3z M170.65 292.05h1.3v1.5h-1.3z M177.15 290.75h1.3v1.5h-1.3z M176.25 292.35h1.3v1.5h-1.3z M178.95 297.55h1.3v1.5h-1.3z M170.85 298.85h1.3v1.5h-1.3z M169.75 299.75h1.3v1.5h-1.3z M152.15 301.75h1.3v1.5h-1.3z M153.75 303.55h1.3v1.5h-1.3z M148.55 302.75h1.3v1.5h-1.3z M149.15 305.55h1.3v1.5h-1.3z M149.45 306.85h1.3v1.5h-1.3z M148.85 307.75h1.3v1.5h-1.3z M149.85 312.75h1.3v1.5h-1.3z M150.65 315.95h1.3v1.5h-1.3z M150.95 316.85h1.3v1.5h-1.3z M150.65 322.65h1.3v1.5h-1.3z M174.85 303.85h1.3v1.5h-1.3z M178.25 307.05h1.3v1.5h-1.3z M176.95 332.75h1.3v1.5h-1.3z" fill="#ac2cb2"/>
<text transform="translate(17.60,267.85) rotate(-90)" font-size="5.90" text-anchor="middle" >TPD Concentration (cm<tspan font-size="4.25" dy="-2.83">3</tspan><tspan dy="2.83">min</tspan><tspan font-size="4.25" dy="-2.83">-1</tspan><tspan dy="2.83">)</tspan></text>
<line x1="361.10" y1="199.00" x2="361.10" y2="339.60" stroke="#ebebeb" stroke-width="0.7" />
<line x1="387.85" y1="199.00" x2="387.85" y2="339.60" stroke="#ebebeb" stroke-width="0.7" />
<line x1="414.60" y1="199.00" x2="414.60" y2="339.60" stroke="#ebebeb" stroke-width="0.7" />
<line x1="441.35" y1="199.00" x2="441.35" y2="339.60" stroke="#ebebeb" stroke-width="0.7" />
<line x1="468.10" y1="199.00" x2="468.10" y2="339.60" stroke="#ebebeb" stroke-width="0.7" />
<line x1="494.85" y1="199.00" x2="494.85" y2="339.60" stroke="#ebebeb" stroke-width="0.7" />
<line x1="521.60" y1="199.00" x2="521.60" y2="339.60" stroke="#ebebeb" stroke-width="0.7" />
<line x1="360.00" y1="338.22" x2="538.50" y2="338.22" stroke="#ebebeb" stroke-width="0.7" />
<line x1="360.00" y1="330.67" x2="538.50" y2="330.67" stroke="#ebebeb" stroke-width="0.7" />
<line x1="360.00" y1="321.37" x2="538.50" y2="321.37" stroke="#ebebeb" stroke-width="0.7" />
<line x1="360.00" y1="315.36" x2="538.50" y2="315.36" stroke="#ebebeb" stroke-width="0.7" />
<line x1="360.00" y1="306.34" x2="538.50" y2="306.34" stroke="#ebebeb" stroke-width="0.7" />
<line x1="360.00" y1="298.32" x2="538.50" y2="298.32" stroke="#ebebeb" stroke-width="0.7" />
<line x1="360.00" y1="284.93" x2="538.50" y2="284.93" stroke="#ebebeb" stroke-width="0.7" />
<line x1="360.00" y1="270.05" x2="538.50" y2="270.05" stroke="#ebebeb" stroke-width="0.7" />
<line x1="360.00" y1="255.17" x2="538.50" y2="255.17" stroke="#ebebeb" stroke-width="0.7" />
<line x1="360.00" y1="241.78" x2="538.50" y2="241.78" stroke="#ebebeb" stroke-width="0.7" />
<line x1="360.00" y1="233.76" x2="538.50" y2="233.76" stroke="#ebebeb" stroke-width="0.7" />
<line x1="360.00" y1="224.74" x2="538.50" y2="224.74" stroke="#ebebeb" stroke-width="0.7" />
<line x1="360.00" y1="218.73" x2="538.50" y2="218.73" stroke="#ebebeb" stroke-width="0.7" />
<line x1="360.00" y1="209.43" x2="538.50" y2="209.43" stroke="#ebebeb" stroke-width="0.7" />
<line x1="360.00" y1="201.88" x2="538.50" y2="201.88" stroke="#ebebeb" stroke-width="0.7" />
<line x1="360.00" y1="199.00" x2="360.00" y2="339.60" stroke="#cfcfcf" stroke-width="1.8" />
<line x1="359.10" y1="339.60" x2="538.50" y2="339.60" stroke="#8e8e8e" stroke-width="1.3" />
<line x1="361.10" y1="339.60" x2="361.10" y2="337.80" stroke="#6a6a6a" stroke-width="0.8" />
<text x="361.10" y="348.30" font-size="5.5" text-anchor="middle" >-3</text>
<line x1="387.85" y1="339.60" x2="387.85" y2="337.80" stroke="#6a6a6a" stroke-width="0.8" />
<text x="387.85" y="348.30" font-size="5.5" text-anchor="middle" >-2</text>
<line x1="414.60" y1="339.60" x2="414.60" y2="337.80" stroke="#6a6a6a" stroke-width="0.8" />
<text x="414.60" y="348.30" font-size="5.5" text-anchor="middle" >-1</text>
<line x1="441.35" y1="339.60" x2="441.35" y2="337.80" stroke="#6a6a6a" stroke-width="0.8" />
<text x="441.35" y="348.30" font-size="5.5" text-anchor="middle" >0</text>
<line x1="468.10" y1="339.60" x2="468.10" y2="337.80" stroke="#6a6a6a" stroke-width="0.8" />
<text x="468.10" y="348.30" font-size="5.5" text-anchor="middle" >1</text>
<line x1="494.85" y1="339.60" x2="494.85" y2="337.80" stroke="#6a6a6a" stroke-width="0.8" />
<text x="494.85" y="348.30" font-size="5.5" text-anchor="middle" >2</text>
<line x1="521.60" y1="339.60" x2="521.60" y2="337.80" stroke="#6a6a6a" stroke-width="0.8" />
<text x="521.60" y="348.30" font-size="5.5" text-anchor="middle" >3</text>
<line x1="360.00" y1="338.22" x2="361.80" y2="338.22" stroke="#6a6a6a" stroke-width="0.8" />
<text x="357.50" y="340.22" font-size="5.5" text-anchor="end" >0.001</text>
<line x1="360.00" y1="330.67" x2="361.80" y2="330.67" stroke="#6a6a6a" stroke-width="0.8" />
<text x="357.50" y="332.67" font-size="5.5" text-anchor="end" >0.003</text>
<line x1="360.00" y1="321.37" x2="361.80" y2="321.37" stroke="#6a6a6a" stroke-width="0.8" />
<text x="357.50" y="323.37" font-size="5.5" text-anchor="end" >0.01</text>
<line x1="360.00" y1="315.36" x2="361.80" y2="315.36" stroke="#6a6a6a" stroke-width="0.8" />
<text x="357.50" y="317.36" font-size="5.5" text-anchor="end" >0.02</text>
<line x1="360.00" y1="306.34" x2="361.80" y2="306.34" stroke="#6a6a6a" stroke-width="0.8" />
<text x="357.50" y="308.34" font-size="5.5" text-anchor="end" >0.05</text>
<line x1="360.00" y1="298.32" x2="361.80" y2="298.32" stroke="#6a6a6a" stroke-width="0.8" />
<text x="357.50" y="300.32" font-size="5.5" text-anchor="end" >0.10</text>
<line x1="360.00" y1="284.93" x2="361.80" y2="284.93" stroke="#6a6a6a" stroke-width="0.8" />
<text x="357.50" y="286.93" font-size="5.5" text-anchor="end" >0.25</text>
<line x1="360.00" y1="270.05" x2="361.80" y2="270.05" stroke="#6a6a6a" stroke-width="0.8" />
<text x="357.50" y="272.05" font-size="5.5" text-anchor="end" >0.50</text>
<line x1="360.00" y1="255.17" x2="361.80" y2="255.17" stroke="#6a6a6a" stroke-width="0.8" />
<text x="357.50" y="257.17" font-size="5.5" text-anchor="end" >0.75</text>
<line x1="360.00" y1="241.78" x2="361.80" y2="241.78" stroke="#6a6a6a" stroke-width="0.8" />
<text x="357.50" y="243.78" font-size="5.5" text-anchor="end" >0.90</text>
<line x1="360.00" y1="233.76" x2="361.80" y2="233.76" stroke="#6a6a6a" stroke-width="0.8" />
<text x="357.50" y="235.76" font-size="5.5" text-anchor="end" >0.95</text>
<line x1="360.00" y1="224.74" x2="361.80" y2="224.74" stroke="#6a6a6a" stroke-width="0.8" />
<text x="357.50" y="226.74" font-size="5.5" text-anchor="end" >0.98</text>
<line x1="360.00" y1="218.73" x2="361.80" y2="218.73" stroke="#6a6a6a" stroke-width="0.8" />
<text x="357.50" y="220.73" font-size="5.5" text-anchor="end" >0.99</text>
<line x1="360.00" y1="209.43" x2="361.80" y2="209.43" stroke="#6a6a6a" stroke-width="0.8" />
<text x="357.50" y="211.43" font-size="5.5" text-anchor="end" >0.997</text>
<line x1="360.00" y1="201.88" x2="361.80" y2="201.88" stroke="#6a6a6a" stroke-width="0.8" />
<text x="357.50" y="203.88" font-size="5.5" text-anchor="end" >0.999</text>
<text transform="translate(539.20,358.00) scale(0.8929,1)" font-size="6.27" text-anchor="end" >×10<tspan font-size="4.6" dy="-2.4">-3</tspan></text>
<text x="449.50" y="358.00" font-size="6.05" text-anchor="middle" >TPD Concentration (cm<tspan font-size="4.36" dy="-2.90">3</tspan><tspan dy="2.90">min</tspan><tspan font-size="4.36" dy="-2.90">-1</tspan><tspan dy="2.90">)</tspan></text>
<text transform="translate(341.40,269.30) rotate(-90)" font-size="6.05" text-anchor="middle" >Probability</text>
<line x1="363.90" y1="320.30" x2="534.90" y2="210.40" stroke="#f4a070" stroke-width="0.8" />
<g stroke="#980ca8" stroke-width="1" stroke-opacity="0.55" fill="none"><path d="M363.36 335.07h3.4M365.06 333.37v3.4"/><path d="M370.46 326.98h3.4M372.16 325.28v3.4"/><path d="M373.60 322.80h3.4M375.30 321.10v3.4"/><path d="M377.16 319.85h3.4M378.86 318.15v3.4"/><path d="M377.16 317.51h3.4M378.86 315.81v3.4"/><path d="M384.39 315.56h3.4M386.09 313.86v3.4"/><path d="M385.08 313.86h3.4M386.78 312.16v3.4"/><path d="M386.31 312.34h3.4M388.01 310.64v3.4"/><path d="M386.85 310.97h3.4M388.55 309.27v3.4"/><path d="M390.68 309.90h3.4M392.38 308.20v3.4"/><path d="M391.63 308.91h3.4M393.33 307.21v3.4"/><path d="M393.68 308.00h3.4M395.38 306.30v3.4"/><path d="M394.36 307.15h3.4M396.06 305.45v3.4"/><path d="M394.77 306.36h3.4M396.47 304.66v3.4"/><path d="M395.32 305.61h3.4M397.02 303.91v3.4"/><path d="M396.82 304.90h3.4M398.52 303.20v3.4"/><path d="M396.82 304.23h3.4M398.52 302.53v3.4"/><path d="M396.82 303.59h3.4M398.52 301.89v3.4"/><path d="M397.51 302.98h3.4M399.21 301.28v3.4"/><path d="M398.05 302.39h3.4M399.75 300.69v3.4"/><path d="M398.05 301.83h3.4M399.75 300.13v3.4"/><path d="M398.46 301.29h3.4M400.16 299.59v3.4"/><path d="M398.73 300.76h3.4M400.43 299.06v3.4"/><path d="M398.73 300.26h3.4M400.43 298.56v3.4"/><path d="M399.01 299.77h3.4M400.71 298.07v3.4"/><path d="M399.28 299.29h3.4M400.98 297.59v3.4"/><path d="M400.51 298.83h3.4M402.21 297.13v3.4"/><path d="M401.19 298.38h3.4M402.89 296.68v3.4"/><path d="M401.19 297.95h3.4M402.89 296.25v3.4"/><path d="M401.19 297.52h3.4M402.89 295.82v3.4"/><path d="M401.19 297.11h3.4M402.89 295.41v3.4"/><path d="M402.83 296.70h3.4M404.53 295.00v3.4"/><path d="M402.97 296.31h3.4M404.67 294.61v3.4"/><path d="M403.24 295.92h3.4M404.94 294.22v3.4"/><path d="M404.33 295.54h3.4M406.03 293.84v3.4"/><path d="M404.33 295.17h3.4M406.03 293.47v3.4"/><path d="M404.33 294.81h3.4M406.03 293.11v3.4"/><path d="M404.47 294.45h3.4M406.17 292.75v3.4"/><path d="M404.88 294.10h3.4M406.58 292.40v3.4"/><path d="M405.29 293.76h3.4M406.99 292.06v3.4"/><path d="M405.70 293.42h3.4M407.40 291.72v3.4"/><path d="M406.79 293.09h3.4M408.49 291.39v3.4"/><path d="M406.79 292.76h3.4M408.49 291.06v3.4"/><path d="M408.02 292.44h3.4M409.72 290.74v3.4"/><path d="M408.02 292.12h3.4M409.72 290.42v3.4"/><path d="M408.43 291.81h3.4M410.13 290.11v3.4"/><path d="M408.43 291.50h3.4M410.13 289.80v3.4"/><path d="M408.57 291.20h3.4M410.27 289.50v3.4"/><path d="M408.57 290.90h3.4M410.27 289.20v3.4"/><path d="M408.98 290.61h3.4M410.68 288.91v3.4"/><path d="M408.98 290.32h3.4M410.68 288.62v3.4"/><path d="M409.66 290.03h3.4M411.36 288.33v3.4"/><path d="M409.80 289.75h3.4M411.50 288.05v3.4"/><path d="M409.80 289.47h3.4M411.50 287.77v3.4"/><path d="M410.21 289.19h3.4M411.91 287.49v3.4"/><path d="M411.44 288.92h3.4M413.14 287.22v3.4"/><path d="M412.12 288.65h3.4M413.82 286.95v3.4"/><path d="M412.12 288.38h3.4M413.82 286.68v3.4"/><path d="M413.35 288.12h3.4M415.05 286.42v3.4"/><path d="M413.90 287.86h3.4M415.60 286.16v3.4"/><path d="M415.26 287.60h3.4M416.96 285.90v3.4"/><path d="M415.26 287.34h3.4M416.96 285.64v3.4"/><path d="M415.81 287.09h3.4M417.51 285.39v3.4"/><path d="M416.08 286.84h3.4M417.78 285.14v3.4"/><path d="M416.49 286.59h3.4M418.19 284.89v3.4"/><path d="M416.49 286.34h3.4M418.19 284.64v3.4"/><path d="M417.04 286.10h3.4M418.74 284.40v3.4"/><path d="M417.31 285.86h3.4M419.01 284.16v3.4"/><path d="M417.72 285.62h3.4M419.42 283.92v3.4"/><path d="M418.27 285.38h3.4M419.97 283.68v3.4"/><path d="M418.27 285.14h3.4M419.97 283.44v3.4"/><path d="M418.54 284.91h3.4M420.24 283.21v3.4"/><path d="M418.54 284.68h3.4M420.24 282.98v3.4"/><path d="M418.54 284.45h3.4M420.24 282.75v3.4"/><path d="M418.68 284.22h3.4M420.38 282.52v3.4"/><path d="M418.95 283.99h3.4M420.65 282.29v3.4"/><path d="M418.95 283.76h3.4M420.65 282.06v3.4"/><path d="M418.95 283.54h3.4M420.65 281.84v3.4"/><path d="M419.49 283.32h3.4M421.19 281.62v3.4"/><path d="M419.77 283.10h3.4M421.47 281.40v3.4"/><path d="M420.72 282.88h3.4M422.42 281.18v3.4"/><path d="M420.72 282.66h3.4M422.42 280.96v3.4"/><path d="M421.41 282.44h3.4M423.11 280.74v3.4"/><path d="M421.82 282.23h3.4M423.52 280.53v3.4"/><path d="M422.09 282.01h3.4M423.79 280.31v3.4"/><path d="M422.09 281.80h3.4M423.79 280.10v3.4"/><path d="M422.09 281.59h3.4M423.79 279.89v3.4"/><path d="M422.23 281.38h3.4M423.93 279.68v3.4"/><path d="M423.46 281.17h3.4M425.16 279.47v3.4"/><path d="M423.87 280.96h3.4M425.57 279.26v3.4"/><path d="M423.87 280.75h3.4M425.57 279.05v3.4"/><path d="M423.87 280.55h3.4M425.57 278.85v3.4"/><path d="M425.09 280.34h3.4M426.79 278.64v3.4"/><path d="M425.09 280.14h3.4M426.79 278.44v3.4"/><path d="M425.78 279.94h3.4M427.48 278.24v3.4"/><path d="M425.78 279.73h3.4M427.48 278.03v3.4"/><path d="M426.05 279.53h3.4M427.75 277.83v3.4"/><path d="M426.32 279.33h3.4M428.02 277.63v3.4"/><path d="M426.32 279.13h3.4M428.02 277.43v3.4"/><path d="M426.32 278.93h3.4M428.02 277.23v3.4"/><path d="M426.73 278.74h3.4M428.43 277.04v3.4"/><path d="M426.73 278.54h3.4M428.43 276.84v3.4"/><path d="M427.01 278.34h3.4M428.71 276.64v3.4"/><path d="M427.55 278.15h3.4M429.25 276.45v3.4"/><path d="M427.55 277.95h3.4M429.25 276.25v3.4"/><path d="M428.51 277.76h3.4M430.21 276.06v3.4"/><path d="M428.92 277.57h3.4M430.62 275.87v3.4"/><path d="M429.19 277.38h3.4M430.89 275.68v3.4"/><path d="M429.47 277.18h3.4M431.17 275.48v3.4"/><path d="M430.15 276.99h3.4M431.85 275.29v3.4"/><path d="M430.15 276.80h3.4M431.85 275.10v3.4"/><path d="M430.15 276.61h3.4M431.85 274.91v3.4"/><path d="M430.15 276.42h3.4M431.85 274.72v3.4"/><path d="M430.42 276.23h3.4M432.12 274.53v3.4"/><path d="M430.69 276.05h3.4M432.39 274.35v3.4"/><path d="M431.65 275.86h3.4M433.35 274.16v3.4"/><path d="M431.92 275.67h3.4M433.62 273.97v3.4"/><path d="M432.61 275.49h3.4M434.31 273.79v3.4"/><path d="M432.61 275.30h3.4M434.31 273.60v3.4"/><path d="M433.02 275.11h3.4M434.72 273.41v3.4"/><path d="M433.15 274.93h3.4M434.85 273.23v3.4"/><path d="M434.38 274.74h3.4M436.08 273.04v3.4"/><path d="M434.66 274.56h3.4M436.36 272.86v3.4"/><path d="M435.06 274.38h3.4M436.76 272.68v3.4"/><path d="M435.47 274.19h3.4M437.17 272.49v3.4"/><path d="M435.47 274.01h3.4M437.17 272.31v3.4"/><path d="M435.75 273.83h3.4M437.45 272.13v3.4"/><path d="M435.88 273.65h3.4M437.58 271.95v3.4"/><path d="M435.88 273.46h3.4M437.58 271.76v3.4"/><path d="M435.88 273.28h3.4M437.58 271.58v3.4"/><path d="M436.29 273.10h3.4M437.99 271.40v3.4"/><path d="M436.29 272.92h3.4M437.99 271.22v3.4"/><path d="M436.29 272.74h3.4M437.99 271.04v3.4"/><path d="M436.70 272.56h3.4M438.40 270.86v3.4"/><path d="M436.98 272.38h3.4M438.68 270.68v3.4"/><path d="M437.11 272.20h3.4M438.81 270.50v3.4"/><path d="M437.52 272.02h3.4M439.22 270.32v3.4"/><path d="M437.52 271.84h3.4M439.22 270.14v3.4"/><path d="M438.21 271.66h3.4M439.91 269.96v3.4"/><path d="M438.48 271.48h3.4M440.18 269.78v3.4"/><path d="M438.75 271.30h3.4M440.45 269.60v3.4"/><path d="M439.71 271.13h3.4M441.41 269.43v3.4"/><path d="M439.71 270.95h3.4M441.41 269.25v3.4"/><path d="M439.98 270.77h3.4M441.68 269.07v3.4"/><path d="M440.39 270.59h3.4M442.09 268.89v3.4"/><path d="M440.94 270.41h3.4M442.64 268.71v3.4"/><path d="M441.21 270.24h3.4M442.91 268.54v3.4"/><path d="M441.89 270.06h3.4M443.59 268.36v3.4"/><path d="M442.58 269.88h3.4M444.28 268.18v3.4"/><path d="M443.81 269.70h3.4M445.51 268.00v3.4"/><path d="M444.08 269.53h3.4M445.78 267.83v3.4"/><path d="M444.63 269.35h3.4M446.33 267.65v3.4"/><path d="M444.63 269.17h3.4M446.33 267.47v3.4"/><path d="M445.31 268.99h3.4M447.01 267.29v3.4"/><path d="M445.58 268.82h3.4M447.28 267.12v3.4"/><path d="M446.26 268.64h3.4M447.96 266.94v3.4"/><path d="M446.26 268.46h3.4M447.96 266.76v3.4"/><path d="M446.26 268.28h3.4M447.96 266.58v3.4"/><path d="M446.26 268.11h3.4M447.96 266.41v3.4"/><path d="M446.67 267.93h3.4M448.37 266.23v3.4"/><path d="M446.81 267.75h3.4M448.51 266.05v3.4"/><path d="M446.81 267.57h3.4M448.51 265.87v3.4"/><path d="M447.08 267.40h3.4M448.78 265.70v3.4"/><path d="M447.08 267.22h3.4M448.78 265.52v3.4"/><path d="M447.49 267.04h3.4M449.19 265.34v3.4"/><path d="M447.49 266.86h3.4M449.19 265.16v3.4"/><path d="M447.90 266.69h3.4M449.60 264.99v3.4"/><path d="M448.04 266.51h3.4M449.74 264.81v3.4"/><path d="M448.04 266.33h3.4M449.74 264.63v3.4"/><path d="M448.31 266.15h3.4M450.01 264.45v3.4"/><path d="M448.31 265.97h3.4M450.01 264.27v3.4"/><path d="M448.72 265.80h3.4M450.42 264.10v3.4"/><path d="M449.41 265.62h3.4M451.11 263.92v3.4"/><path d="M449.54 265.44h3.4M451.24 263.74v3.4"/><path d="M450.36 265.26h3.4M452.06 263.56v3.4"/><path d="M450.63 265.08h3.4M452.33 263.38v3.4"/><path d="M450.63 264.90h3.4M452.33 263.20v3.4"/><path d="M450.63 264.72h3.4M452.33 263.02v3.4"/><path d="M451.18 264.54h3.4M452.88 262.84v3.4"/><path d="M451.18 264.36h3.4M452.88 262.66v3.4"/><path d="M451.18 264.18h3.4M452.88 262.48v3.4"/><path d="M451.18 264.00h3.4M452.88 262.30v3.4"/><path d="M451.86 263.82h3.4M453.56 262.12v3.4"/><path d="M451.86 263.64h3.4M453.56 261.94v3.4"/><path d="M452.41 263.45h3.4M454.11 261.75v3.4"/><path d="M453.64 263.27h3.4M455.34 261.57v3.4"/><path d="M453.64 263.09h3.4M455.34 261.39v3.4"/><path d="M453.64 262.91h3.4M455.34 261.21v3.4"/><path d="M453.64 262.72h3.4M455.34 261.02v3.4"/><path d="M453.64 262.54h3.4M455.34 260.84v3.4"/><path d="M453.64 262.36h3.4M455.34 260.66v3.4"/><path d="M453.64 262.17h3.4M455.34 260.47v3.4"/><path d="M453.64 261.99h3.4M455.34 260.29v3.4"/><path d="M453.64 261.80h3.4M455.34 260.10v3.4"/><path d="M453.64 261.61h3.4M455.34 259.91v3.4"/><path d="M454.05 261.43h3.4M455.75 259.73v3.4"/><path d="M454.87 261.24h3.4M456.57 259.54v3.4"/><path d="M454.87 261.05h3.4M456.57 259.35v3.4"/><path d="M454.87 260.87h3.4M456.57 259.17v3.4"/><path d="M455.96 260.68h3.4M457.66 258.98v3.4"/><path d="M455.96 260.49h3.4M457.66 258.79v3.4"/><path d="M455.96 260.30h3.4M457.66 258.60v3.4"/><path d="M456.23 260.11h3.4M457.93 258.41v3.4"/><path d="M456.51 259.92h3.4M458.21 258.22v3.4"/><path d="M456.51 259.72h3.4M458.21 258.02v3.4"/><path d="M456.51 259.53h3.4M458.21 257.83v3.4"/><path d="M457.19 259.34h3.4M458.89 257.64v3.4"/><path d="M457.19 259.15h3.4M458.89 257.45v3.4"/><path d="M457.74 258.95h3.4M459.44 257.25v3.4"/><path d="M457.74 258.76h3.4M459.44 257.06v3.4"/><path d="M458.42 258.56h3.4M460.12 256.86v3.4"/><path d="M458.42 258.36h3.4M460.12 256.66v3.4"/><path d="M459.65 258.17h3.4M461.35 256.47v3.4"/><path d="M459.65 257.97h3.4M461.35 256.27v3.4"/><path d="M459.65 257.77h3.4M461.35 256.07v3.4"/><path d="M459.65 257.57h3.4M461.35 255.87v3.4"/><path d="M459.92 257.37h3.4M461.62 255.67v3.4"/><path d="M460.33 257.16h3.4M462.03 255.46v3.4"/><path d="M460.61 256.96h3.4M462.31 255.26v3.4"/><path d="M460.88 256.76h3.4M462.58 255.06v3.4"/><path d="M461.15 256.55h3.4M462.85 254.85v3.4"/><path d="M462.11 256.35h3.4M463.81 254.65v3.4"/><path d="M462.11 256.14h3.4M463.81 254.44v3.4"/><path d="M462.79 255.93h3.4M464.49 254.23v3.4"/><path d="M462.79 255.72h3.4M464.49 254.02v3.4"/><path d="M462.79 255.51h3.4M464.49 253.81v3.4"/><path d="M463.34 255.30h3.4M465.04 253.60v3.4"/><path d="M463.34 255.09h3.4M465.04 253.39v3.4"/><path d="M463.61 254.87h3.4M465.31 253.17v3.4"/><path d="M463.75 254.66h3.4M465.45 252.96v3.4"/><path d="M464.02 254.44h3.4M465.72 252.74v3.4"/><path d="M464.43 254.22h3.4M466.13 252.52v3.4"/><path d="M464.43 254.00h3.4M466.13 252.30v3.4"/><path d="M464.57 253.78h3.4M466.27 252.08v3.4"/><path d="M465.25 253.56h3.4M466.95 251.86v3.4"/><path d="M465.25 253.34h3.4M466.95 251.64v3.4"/><path d="M465.66 253.11h3.4M467.36 251.41v3.4"/><path d="M465.66 252.88h3.4M467.36 251.18v3.4"/><path d="M465.80 252.65h3.4M467.50 250.95v3.4"/><path d="M466.48 252.42h3.4M468.18 250.72v3.4"/><path d="M466.48 252.19h3.4M468.18 250.49v3.4"/><path d="M466.89 251.96h3.4M468.59 250.26v3.4"/><path d="M467.30 251.72h3.4M469.00 250.02v3.4"/><path d="M467.71 251.48h3.4M469.41 249.78v3.4"/><path d="M468.12 251.24h3.4M469.82 249.54v3.4"/><path d="M468.12 251.00h3.4M469.82 249.30v3.4"/><path d="M468.12 250.76h3.4M469.82 249.06v3.4"/><path d="M468.39 250.51h3.4M470.09 248.81v3.4"/><path d="M468.53 250.26h3.4M470.23 248.56v3.4"/><path d="M468.94 250.01h3.4M470.64 248.31v3.4"/><path d="M469.62 249.76h3.4M471.32 248.06v3.4"/><path d="M470.17 249.50h3.4M471.87 247.80v3.4"/><path d="M470.85 249.24h3.4M472.55 247.54v3.4"/><path d="M470.85 248.98h3.4M472.55 247.28v3.4"/><path d="M471.12 248.72h3.4M472.82 247.02v3.4"/><path d="M472.08 248.45h3.4M473.78 246.75v3.4"/><path d="M472.35 248.18h3.4M474.05 246.48v3.4"/><path d="M472.35 247.91h3.4M474.05 246.21v3.4"/><path d="M472.49 247.63h3.4M474.19 245.93v3.4"/><path d="M472.62 247.35h3.4M474.32 245.65v3.4"/><path d="M472.62 247.07h3.4M474.32 245.37v3.4"/><path d="M472.62 246.78h3.4M474.32 245.08v3.4"/><path d="M473.03 246.49h3.4M474.73 244.79v3.4"/><path d="M474.13 246.20h3.4M475.83 244.50v3.4"/><path d="M475.77 245.90h3.4M477.47 244.20v3.4"/><path d="M475.77 245.60h3.4M477.47 243.90v3.4"/><path d="M476.72 245.29h3.4M478.42 243.59v3.4"/><path d="M476.99 244.98h3.4M478.69 243.28v3.4"/><path d="M477.54 244.66h3.4M479.24 242.96v3.4"/><path d="M477.68 244.34h3.4M479.38 242.64v3.4"/><path d="M478.09 244.01h3.4M479.79 242.31v3.4"/><path d="M478.50 243.68h3.4M480.20 241.98v3.4"/><path d="M479.45 243.34h3.4M481.15 241.64v3.4"/><path d="M480.41 243.00h3.4M482.11 241.30v3.4"/><path d="M481.09 242.65h3.4M482.79 240.95v3.4"/><path d="M482.05 242.29h3.4M483.75 240.59v3.4"/><path d="M482.05 241.93h3.4M483.75 240.23v3.4"/><path d="M482.59 241.56h3.4M484.29 239.86v3.4"/><path d="M484.10 241.18h3.4M485.80 239.48v3.4"/><path d="M484.51 240.79h3.4M486.21 239.09v3.4"/><path d="M484.78 240.40h3.4M486.48 238.70v3.4"/><path d="M485.46 239.99h3.4M487.16 238.29v3.4"/><path d="M485.74 239.58h3.4M487.44 237.88v3.4"/><path d="M486.01 239.15h3.4M487.71 237.45v3.4"/><path d="M486.69 238.72h3.4M488.39 237.02v3.4"/><path d="M487.65 238.27h3.4M489.35 236.57v3.4"/><path d="M488.19 237.81h3.4M489.89 236.11v3.4"/><path d="M488.88 237.33h3.4M490.58 235.63v3.4"/><path d="M491.75 236.84h3.4M493.45 235.14v3.4"/><path d="M491.88 236.34h3.4M493.58 234.64v3.4"/><path d="M492.97 235.81h3.4M494.67 234.11v3.4"/><path d="M492.97 235.27h3.4M494.67 233.57v3.4"/><path d="M494.61 234.71h3.4M496.31 233.01v3.4"/><path d="M495.02 234.12h3.4M496.72 232.42v3.4"/><path d="M495.71 233.51h3.4M497.41 231.81v3.4"/><path d="M497.21 232.87h3.4M498.91 231.17v3.4"/><path d="M497.48 232.20h3.4M499.18 230.50v3.4"/><path d="M498.57 231.49h3.4M500.27 229.79v3.4"/><path d="M498.71 230.74h3.4M500.41 229.04v3.4"/><path d="M499.53 229.95h3.4M501.23 228.25v3.4"/><path d="M503.49 229.10h3.4M505.19 227.40v3.4"/><path d="M505.40 228.19h3.4M507.10 226.49v3.4"/><path d="M506.22 227.20h3.4M507.92 225.50v3.4"/><path d="M507.59 226.13h3.4M509.29 224.43v3.4"/><path d="M509.09 224.94h3.4M510.79 223.24v3.4"/><path d="M509.50 223.62h3.4M511.20 221.92v3.4"/><path d="M511.96 222.10h3.4M513.66 220.40v3.4"/><path d="M515.92 220.34h3.4M517.62 218.64v3.4"/><path d="M516.33 218.19h3.4M518.03 216.49v3.4"/><path d="M519.06 215.42h3.4M520.76 213.72v3.4"/><path d="M530.53 211.43h3.4M532.23 209.73v3.4"/><path d="M533.67 203.53h3.4M535.37 201.83v3.4"/></g></g>
<text x="111.5" y="181.8" font-size="15.2" text-anchor="middle" font-family="'Liberation Serif', 'Times New Roman', serif" font-weight="bold"><tspan font-weight="normal">(</tspan>a<tspan font-weight="normal">)</tspan></text>
<text x="445.5" y="181.9" font-size="15.2" text-anchor="middle" font-family="'Liberation Serif', 'Times New Roman', serif" font-weight="bold"><tspan font-weight="normal">(</tspan>b<tspan font-weight="normal">)</tspan></text>
<text x="111.4" y="374.6" font-size="15.2" text-anchor="middle" font-family="'Liberation Serif', 'Times New Roman', serif" font-weight="bold"><tspan font-weight="normal">(</tspan>c<tspan font-weight="normal">)</tspan></text>
<text x="445.4" y="374.6" font-size="15.2" text-anchor="middle" font-family="'Liberation Serif', 'Times New Roman', serif" font-weight="bold"><tspan font-weight="normal">(</tspan>d<tspan font-weight="normal">)</tspan></text>
</svg></body></html>
